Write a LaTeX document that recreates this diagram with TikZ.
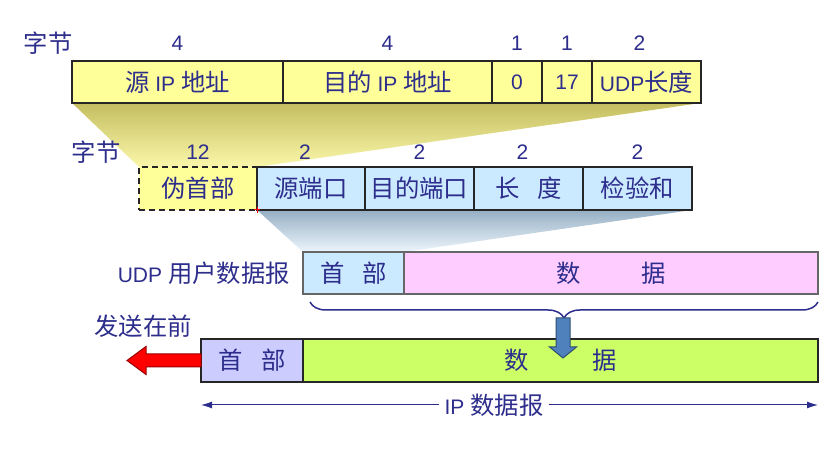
\documentclass[tikz,border=0pt]{standalone}
\usepackage{fontspec}
\setmainfont{Liberation Sans}
\newfontfamily\cjk[Scale=1.16]{Noto Sans CJK SC}
\newcommand{\zh}[1]{{\cjk #1}}
\usepackage{xcolor}
\usetikzlibrary{arrows.meta, positioning, calc, backgrounds, decorations.pathreplacing}

\definecolor{txtblue}{RGB}{45,45,140}
\definecolor{fyellow}{RGB}{255,255,153}
\definecolor{fblue}{RGB}{204,234,255}
\definecolor{fpink}{RGB}{255,204,255}
\definecolor{flav}{RGB}{204,204,255}
\definecolor{flime}{RGB}{204,255,102}
\definecolor{shyellow}{RGB}{196,190,96}
\definecolor{shyellowlt}{RGB}{250,247,170}
\definecolor{shblue}{RGB}{150,175,196}
\definecolor{shbluelt}{RGB}{236,245,252}
\definecolor{arrblue}{RGB}{79,129,189}

\begin{document}
\begin{tikzpicture}[x=1pt, y=1pt, >={Latex[length=11pt,width=7pt]}, font=\fontsize{21}{25}\selectfont, text=txtblue]
    % Styles
    \tikzstyle{field} = [rectangle, draw=black!85, line width=1.5pt, inner sep=0pt, outer sep=0pt, minimum height=42pt]
    \tikzstyle{pseudo} = [field, fill=fyellow, dash pattern=on 6pt off 4pt, minimum height=43pt]
    \tikzstyle{ipfield} = [field, fill=fyellow]
    \tikzstyle{udpfield} = [field, fill=fblue, minimum height=43pt]
    \tikzstyle{dgram} = [field, draw=black!60, line width=1.2pt]
    \tikzstyle{num} = [inner sep=0pt]
    \tikzstyle{txt} = [inner sep=0pt]
    \tikzstyle{dim} = [draw=txtblue, line width=1pt, ->]

    \useasboundingbox (0,0) rectangle (832,460);

    % Pseudo header row
    \node [ipfield, minimum width=211pt, anchor=north west] (srcip) at (72,399) {\zh{源} IP \zh{地址}};
    \node [ipfield, minimum width=209pt, right=0pt of srcip] (dstip) {\zh{目的} IP \zh{地址}};
    \node [ipfield, minimum width=50pt, right=0pt of dstip] (zero) {0};
    \node [ipfield, minimum width=50pt, right=0pt of zero] (proto) {17};
    \node [ipfield, minimum width=109pt, right=0pt of proto] (udplen) {UDP\zh{长度}};

    % UDP header row
    \node [pseudo, minimum width=118pt, anchor=north west] (pshdr) at (139,293) {\zh{伪首部}};
    \node [udpfield, minimum width=108pt, right=0pt of pshdr] (sport) {\zh{源端口}};
    \node [udpfield, minimum width=109pt, right=0pt of sport] (dport) {\zh{目的端口}};
    \node [udpfield, minimum width=109pt, right=0pt of dport] (ulen) {\zh{长\hspace{0.7em}度}};
    \node [udpfield, minimum width=109pt, right=0pt of ulen] (csum) {\zh{检验和}};

    % UDP datagram
    \node [dgram, fill=fblue, minimum width=101pt, anchor=north west] (uhdr) at (303,208) {\zh{首\hspace{0.75em}部}};
    \node [dgram, fill=fpink, minimum width=414pt, right=0pt of uhdr] (udata) {\zh{数\hspace{2.5em}据}};
    \node [txt, left=13pt of uhdr] (udplabel) {UDP \zh{用户数据报}};

    % IP datagram
    \node [field, fill=flav, minimum width=102pt, minimum height=43pt, anchor=north west] (ihdr) at (201,121) {\zh{首\hspace{0.75em}部}};
    \node [field, fill=flime, minimum width=515pt, minimum height=43pt, right=0pt of ihdr] (idata) {\zh{数\hspace{2.6em}据}};
    \node [txt] (first) at (143,134) {\zh{发送在前}};
    \node [txt, inner sep=5pt] (iplabel) at (494,55) {IP \zh{数据报}};

    % Byte counts
    \node [num] (b1) at (48,417) {\zh{字节}};
    \node [num] (n1) at ([yshift=18pt]srcip.north) {4};
    \node [num] (n2) at ([yshift=18pt]dstip.north) {4};
    \node [num] (n3) at ([yshift=18pt]zero.north) {1};
    \node [num] (n4) at ([yshift=18pt]proto.north) {1};
    \node [num] (n5) at ([shift={(-7pt,18pt)}]udplen.north) {2};
    \node [num] (b2) at (96,308) {\zh{字节}};
    \node [num] (m1) at ([yshift=15pt]pshdr.north) {12};
    \node [num] (m2) at ([shift={(-6pt,15pt)}]sport.north) {2};
    \node [num] (m3) at ([yshift=15pt]dport.north) {2};
    \node [num] (m4) at ([shift={(-6pt,15pt)}]ulen.north) {2};
    \node [num] (m5) at ([yshift=15pt]csum.north) {2};

    % Shadows between rows
    \begin{scope}[on background layer]
        \shade [top color=shyellow, bottom color=shyellowlt] (srcip.south west) -- (udplen.south east) -- (pshdr.north east) -- (pshdr.north west) -- cycle;
        \shade [top color=shblue, bottom color=shbluelt] (sport.south west) -- (csum.south east) -- (uhdr.north east) -- (uhdr.north west) -- cycle;
    \end{scope}
    \draw [red, line width=1pt] ([xshift=-3pt]sport.south west) -- ++(6pt,0) ([yshift=3pt]sport.south west) -- ++(0,-6pt);

    % Brace and arrows
    \draw [draw=txtblue, line width=1.5pt, decorate, decoration={brace, mirror, amplitude=16pt}] ([shift={(7pt,-8pt)}]uhdr.south west) -- ([yshift=-8pt]udata.south east);
    \coordinate (tip) at (563,142);
    \draw [fill=arrblue, draw=arrblue!60!black, line width=1pt] ([xshift=-7pt]tip) -- ++(0,-29) -- ++(-6.5,0) -- ++(13.5,-11) -- ++(13.5,11) -- ++(-6.5,0) -- ([xshift=7pt]tip) -- cycle;
    \draw [fill=red, draw=red!60!black, line width=1pt] ([yshift=6.5pt]ihdr.west) -- ++(-55,0) -- ++(0,7.5) -- ++(-19,-14) -- ++(19,-14) -- ++(0,7.5) -- ([yshift=-6.5pt]ihdr.west) -- cycle;
    \draw [dim] (iplabel.west) -- (iplabel.west -| ihdr.west);
    \draw [dim] (iplabel.east) -- (iplabel.east -| idata.east);
\end{tikzpicture}
\end{document}
